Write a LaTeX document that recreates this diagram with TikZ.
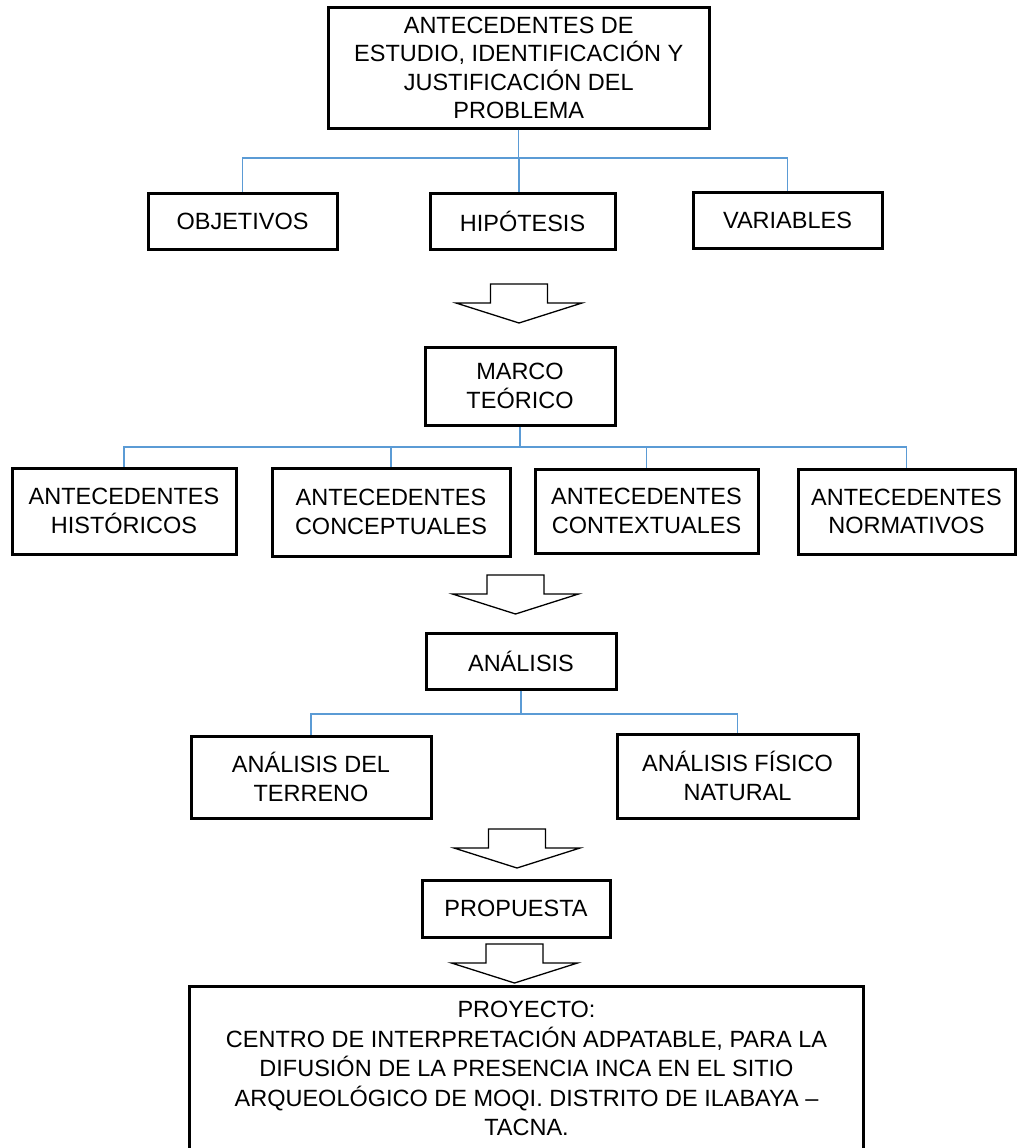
\documentclass[tikz,border=0pt]{standalone}
\usepackage{fontspec}
\setmainfont{Liberation Sans}
\definecolor{connblue}{RGB}{91,155,213}
\begin{document}
\begin{tikzpicture}[x=1pt,y=-1pt,
  box/.style={draw=black, line width=3pt, fill=white, inner sep=0pt, align=center,
    font=\fontsize{23.5}{28.5}\selectfont},
  conn/.style={draw=connblue, line width=1.3pt},
  barrow/.style={draw=black, line width=1.3pt, fill=white},
  blockdown/.pic={\path[barrow] (-28.5,0) -- (28.5,0) -- (28.5,19) -- (63,19) -- (0,39) -- (-63,19) -- (-28.5,19) -- cycle;}]
\useasboundingbox (0,0) rectangle (1018,1148);

% boxes
\node[box, minimum width=380.5pt, minimum height=120pt] (top) at (518.75,68)
  {ANTECEDENTES DE\\ESTUDIO, IDENTIFICACIÓN Y\\JUSTIFICACIÓN DEL\\PROBLEMA};
\node[box, minimum width=189pt, minimum height=56pt] (obj) at (242.5,221) {OBJETIVOS};
\node[box, minimum width=185pt, minimum height=56pt] (hip) at (522.5,221) {HIPÓTESIS};
\node[box, minimum width=189pt, minimum height=56pt] (var) at (787.5,220) {VARIABLES};

\node[box, minimum width=190pt, minimum height=78pt] (marco) at (520,386) {MARCO\\TEÓRICO};
\node[box, minimum width=224pt, minimum height=86pt] (hist) at (124,511) {ANTECEDENTES\\HISTÓRICOS};
\node[box, minimum width=238pt, minimum height=88pt] (conc) at (391,512) {ANTECEDENTES\\CONCEPTUALES};
\node[box, minimum width=223pt, minimum height=84pt] (cont) at (646.5,511) {ANTECEDENTES\\CONTEXTUALES};
\node[box, minimum width=217pt, minimum height=85pt] (norm) at (906.5,511.5) {ANTECEDENTES\\NORMATIVOS};

\node[box, minimum width=190pt, minimum height=56pt] (anal) at (521,661) {ANÁLISIS};
\node[box, minimum width=240pt, minimum height=82pt] (terr) at (311,777) {ANÁLISIS DEL\\TERRENO};
\node[box, minimum width=241pt, minimum height=84pt] (fis) at (737.5,776) {ANÁLISIS FÍSICO\\NATURAL};

\node[box, minimum width=188pt, minimum height=57pt] (prop) at (516,908.5) {PROPUESTA};
% last box runs past the lower edge of the picture: no bottom side
\node[box, draw=none, fill=none, minimum width=671pt, minimum height=161pt,
  font=\fontsize{23.5}{29.5}\selectfont] (proy) at (526.5,1068.5)
  {PROYECTO:\\CENTRO DE INTERPRETACIÓN ADPATABLE, PARA LA\\DIFUSIÓN DE LA PRESENCIA INCA EN EL SITIO\\ARQUEOLÓGICO DE MOQI. DISTRITO DE ILABAYA –\\TACNA.};
\draw[line width=3pt] (proy.south west) -- (proy.north west) -- (proy.north east) -- (proy.south east);

% connectors
\coordinate (bar1) at (519,158);
\draw[conn] (top.south) -- (top.south |- bar1);
\draw[conn] (obj.north) |- (bar1) -| (var.north);
\draw[conn] (bar1) -- (bar1 |- hip.north);

\coordinate (bar2) at (520,447);
\draw[conn] (marco.south) -- (marco.south |- bar2);
\draw[conn] (hist.north) |- (bar2) -| (norm.north);
\draw[conn] (conc.north) -- (conc.north |- bar2);
\draw[conn] (cont.north) -- (cont.north |- bar2);

\coordinate (bar3) at (522,714);
\draw[conn] (anal.south) -- (anal.south |- bar3);
\draw[conn] (terr.north) |- (bar3) -| (fis.north);

% block arrows
\pic at (519,284) {blockdown};
\pic at (515.5,575) {blockdown};
\pic at (517,829) {blockdown};
\pic at (514.5,944) {blockdown};
\end{tikzpicture}
\end{document}
